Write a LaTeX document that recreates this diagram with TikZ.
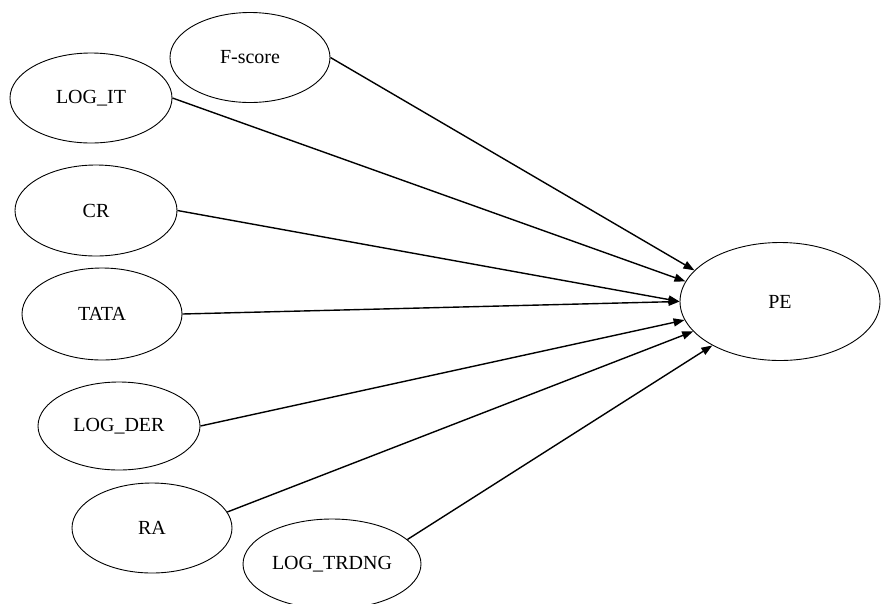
\documentclass[tikz,border=0pt]{standalone}
\usepackage{fontspec}
\setmainfont{Liberation Serif}
\usetikzlibrary{shapes.geometric,arrows.meta}
\begin{document}
\begin{tikzpicture}[x=1pt,y=-1pt,
  var/.style={ellipse,draw,line width=0.9pt,inner sep=0pt,font=\fontsize{20}{23}\selectfont},
  path/.style={line width=1.4pt,-{Triangle[length=11pt,width=8pt]}}]
\useasboundingbox (0,0) rectangle (883,603);
\node[var,minimum width=160,minimum height=90] (fs) at (250,57.5) {F-score};
\node[var,minimum width=162,minimum height=90] (it) at (91,98) {LOG\_IT};
\node[var,minimum width=162,minimum height=91] (cr) at (96,210.5) {CR};
\node[var,minimum width=160,minimum height=92] (tata) at (102,314) {TATA};
\node[var,minimum width=162,minimum height=88] (der) at (119,426) {LOG\_DER};
\node[var,minimum width=160,minimum height=90] (ra) at (152,528) {RA};
\node[var,minimum width=178,minimum height=90] (tr) at (332,564) {LOG\_TRDNG};
\node[var,minimum width=200,minimum height=118] (pe) at (780,301.5) {PE};
\draw[path] (fs.east) -- (pe.160.6);
\draw[path] (it.east) -- (pe.168.7);
\draw[path] (cr.east) -- (pe.west);
\draw[path] (tata.east) -- (pe.west);
\draw[path] (der.east) -- (pe.191.9);
\draw[path] (ra.12) -- (pe.199);
\draw[path] (tr.18) -- (pe.213.5);
\end{tikzpicture}
\end{document}
